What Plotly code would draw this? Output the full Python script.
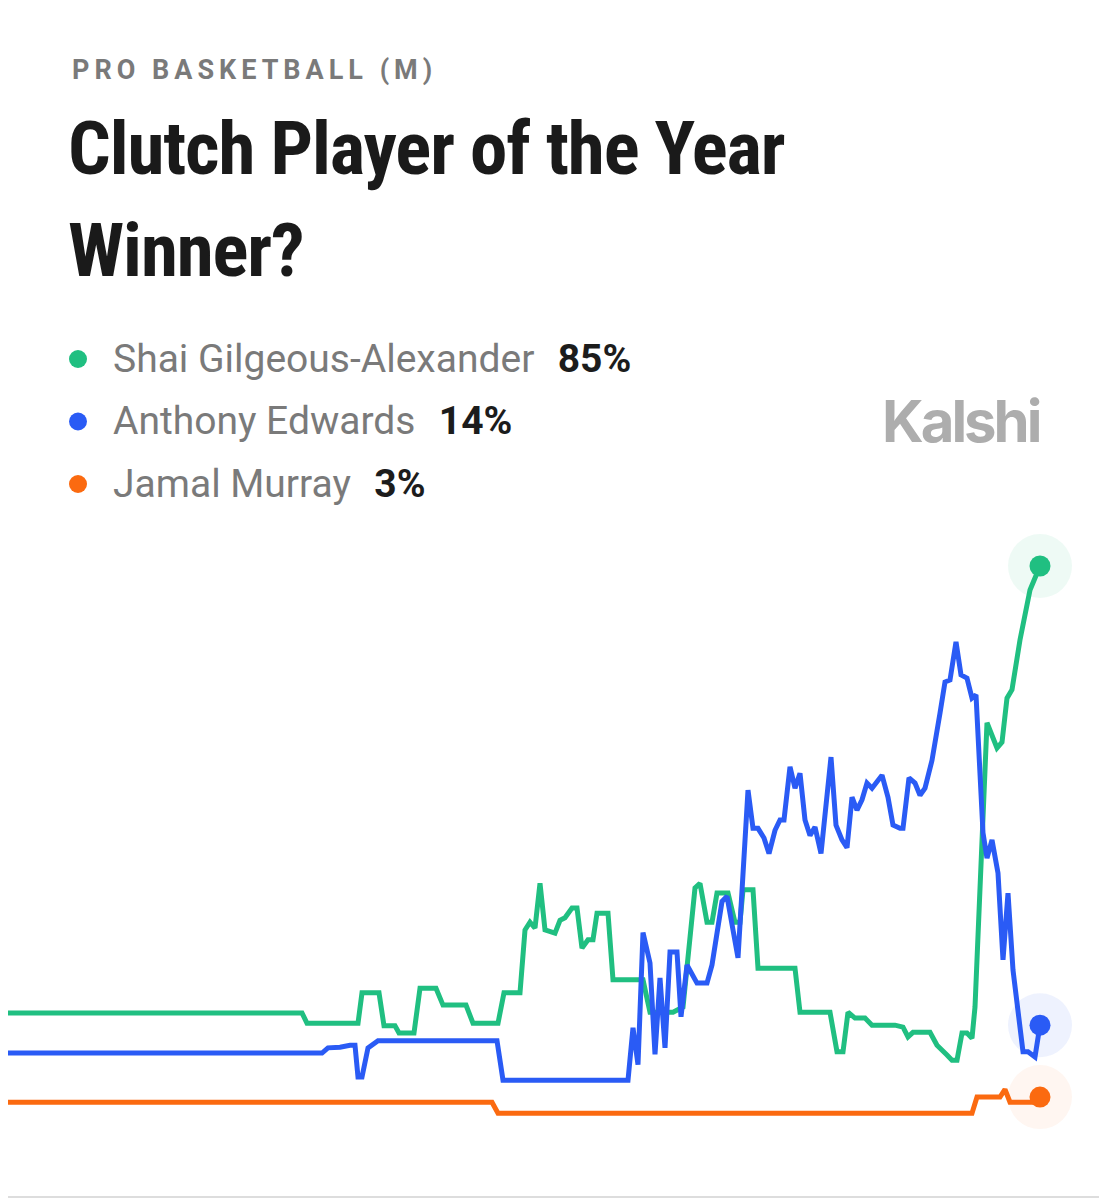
import plotly.graph_objects as go

# market outcomes shown in the legend
names = ["Shai Gilgeous-Alexander", "Anthony Edwards", "Jamal Murray"]
last_pct = ["85%", "14%", "3%"]
colors = ["#20bf81", "#2a5bf5", "#fb6a10"]
halos = ["rgba(32,191,129,0.08)", "rgba(42,91,245,0.08)", "rgba(251,106,16,0.06)"]

# time steps (arbitrary units) and implied chance in %
sga_t = [0, 302, 307, 358, 362, 379, 384, 395, 399, 414, 420, 436, 443, 466, 473, 498,
         504, 520, 525, 530, 535, 540, 545, 555, 560, 565, 572, 577, 582, 588, 593, 597,
         608, 613, 643, 650, 673, 683, 695, 700, 707, 712, 717, 728, 735, 740, 743, 753,
         758, 795, 800, 830, 837, 843, 848, 855, 865, 872, 895, 903, 908, 913, 930, 937,
         947, 952, 957, 962, 967, 972, 975, 982, 987, 997, 1002, 1007, 1012, 1020, 1030, 1040]
sga_p = [16.0, 16.0, 14.4, 14.4, 19.1, 19.1, 14.0, 14.0, 12.9, 12.9, 19.8, 19.8, 17.2, 17.2, 14.4, 14.4,
         19.1, 19.1, 28.8, 30.0, 29.1, 36.0, 28.8, 28.3, 30.3, 30.7, 32.2, 32.2, 26.0, 27.3, 27.3, 31.4,
         31.4, 21.1, 21.1, 16.1, 16.1, 16.9, 35.3, 36.0, 30.0, 30.0, 34.5, 34.5, 30.0, 30.0, 35.0, 35.0,
         22.9, 22.9, 16.1, 16.1, 10.0, 10.0, 16.1, 15.2, 15.2, 14.1, 14.1, 13.8, 12.3, 13.0, 13.0, 11.0,
         9.5, 8.7, 8.7, 12.9, 12.9, 12.1, 16.9, 42.7, 60.8, 56.9, 57.8, 64.6, 65.9, 73.6, 81.3, 85.0]

ant_t = [0, 322, 328, 340, 350, 355, 358, 362, 368, 372, 378, 497, 503, 628, 633, 638,
         643, 650, 655, 660, 665, 670, 677, 681, 687, 697, 707, 712, 722, 727, 738, 748,
         753, 758, 764, 769, 775, 780, 784, 790, 795, 800, 805, 810, 815, 821, 831, 836,
         842, 847, 852, 857, 862, 867, 872, 882, 888, 893, 900, 903, 909, 915, 920, 925,
         932, 940, 945, 950, 956, 961, 967, 972, 976, 983, 987, 992, 998, 1003, 1008, 1013,
         1023, 1028, 1035, 1040]
ant_p = [9.8, 9.8, 10.6, 10.7, 11.0, 11.0, 6.1, 6.1, 10.6, 11.0, 11.7, 11.7, 5.6, 5.6, 13.7, 8.0,
         28.4, 23.7, 9.6, 21.4, 10.6, 25.4, 25.4, 15.4, 23.4, 20.6, 20.6, 23.4, 33.2, 34.0, 24.5, 50.4,
         44.5, 44.5, 43.0, 40.6, 44.2, 45.8, 45.8, 54.0, 50.7, 53.0, 45.8, 43.4, 44.7, 40.6, 55.5, 45.0,
         42.7, 41.5, 49.3, 47.3, 48.9, 51.5, 50.7, 52.7, 49.3, 45.0, 44.5, 44.5, 52.3, 51.5, 49.6, 50.7,
         55.0, 62.3, 67.1, 67.4, 73.3, 68.2, 67.7, 64.6, 65.1, 43.8, 39.9, 42.7, 37.6, 24.2, 34.5, 22.6,
         10.0, 10.0, 9.2, 14.1]

jm_t = [0, 492, 498, 972, 977, 1000, 1005, 1010, 1033, 1040]
jm_p = [2.2, 2.2, 0.5, 0.5, 3.0, 3.0, 4.2, 2.2, 2.2, 3.0]

series = [(sga_t, sga_p), (ant_t, ant_p), (jm_t, jm_p)]

fig = go.Figure()

for (t, p), name, color in zip(series, names, colors):
    fig.add_trace(go.Scatter(x=t, y=p, mode="lines", name=name,
                             line=dict(color=color, width=5, shape="linear"),
                             hoverinfo="skip"))

# end-point dots with soft halo
for (t, p), color, halo in zip(series, colors, halos):
    fig.add_trace(go.Scatter(x=[t[-1]], y=[p[-1]], mode="markers",
                             marker=dict(size=64, color=halo, line=dict(width=0)),
                             hoverinfo="skip", cliponaxis=False))
    fig.add_trace(go.Scatter(x=[t[-1]], y=[p[-1]], mode="markers",
                             marker=dict(size=21, color=color, line=dict(width=0)),
                             hoverinfo="skip", cliponaxis=False))

# page sits 8px in from the top-left (browser body margin)
TOP, BOTTOM = 520, 1140


def py(ypage):
    return (BOTTOM + 8 - ypage) / (BOTTOM - TOP)


def px(xpage):
    return (xpage - 8) / 1107


TITLE_FONT = "Roboto Condensed, Roboto, sans-serif"
annotations = [
    dict(text="<span style='letter-spacing:5px'><b>PRO BASKETBALL (M)</b></span>",
         x=px(70), y=py(70), xanchor="left", yanchor="middle",
         font=dict(family="Roboto, sans-serif", size=27, color="#7a7a7a")),
    dict(text="<span style='letter-spacing:-1.1px'><b>Clutch Player of the Year</b></span>",
         x=px(66), y=py(148), xanchor="left", yanchor="middle",
         font=dict(family=TITLE_FONT, size=75, color="#1a1a1a")),
    dict(text="<span style='letter-spacing:-1.1px'><b>Winner?</b></span>",
         x=px(66), y=py(250), xanchor="left", yanchor="middle",
         font=dict(family=TITLE_FONT, size=75, color="#1a1a1a")),
    dict(text="<span style='letter-spacing:-3px'><b>Kalshi</b></span>",
         x=px(1042), y=py(421), xanchor="right", yanchor="middle",
         font=dict(family="Inter, Roboto, sans-serif", size=58, color="#adadad")),
]

shapes = []
for i, (name, pct, color) in enumerate(zip(names, last_pct, colors)):
    yc = py(359 + i * 62.5)
    shapes.append(dict(type="circle", xref="paper", yref="paper",
                       xsizemode="pixel", ysizemode="pixel",
                       xanchor=px(78), yanchor=yc, x0=-9, x1=9, y0=-9, y1=9,
                       fillcolor=color, line=dict(width=0)))
    annotations.append(dict(
        text=(f"{name}<span style='letter-spacing:2px'>&nbsp;&nbsp;</span>"
              f"<span style='color:#1c1c1c'><b>{pct}</b></span>"),
        x=px(111), y=yc, xanchor="left", yanchor="middle",
        font=dict(family="Roboto, sans-serif", size=39, color="#7a7a7a")))

for a in annotations:
    a.update(xref="paper", yref="paper", showarrow=False)

shapes.append(dict(type="line", xref="paper", yref="paper", x0=0, x1=1, y0=py(1197), y1=py(1197),
                   line=dict(color="#dddddd", width=2)))

fig.update_layout(
    width=1107, height=1200,
    margin=dict(l=0, r=0, t=TOP, b=1200 - BOTTOM),
    paper_bgcolor="white", plot_bgcolor="white",
    showlegend=False,
    xaxis=dict(range=[8, 1115], visible=False, fixedrange=True),
    yaxis=dict(range=[(1116.5 - (BOTTOM + 8)) / 6.476, (1116.5 - (TOP + 8)) / 6.476],
               visible=False, fixedrange=True),
    annotations=annotations, shapes=shapes,
)

fig.write_html("out.html", config={"displayModeBar": False})
